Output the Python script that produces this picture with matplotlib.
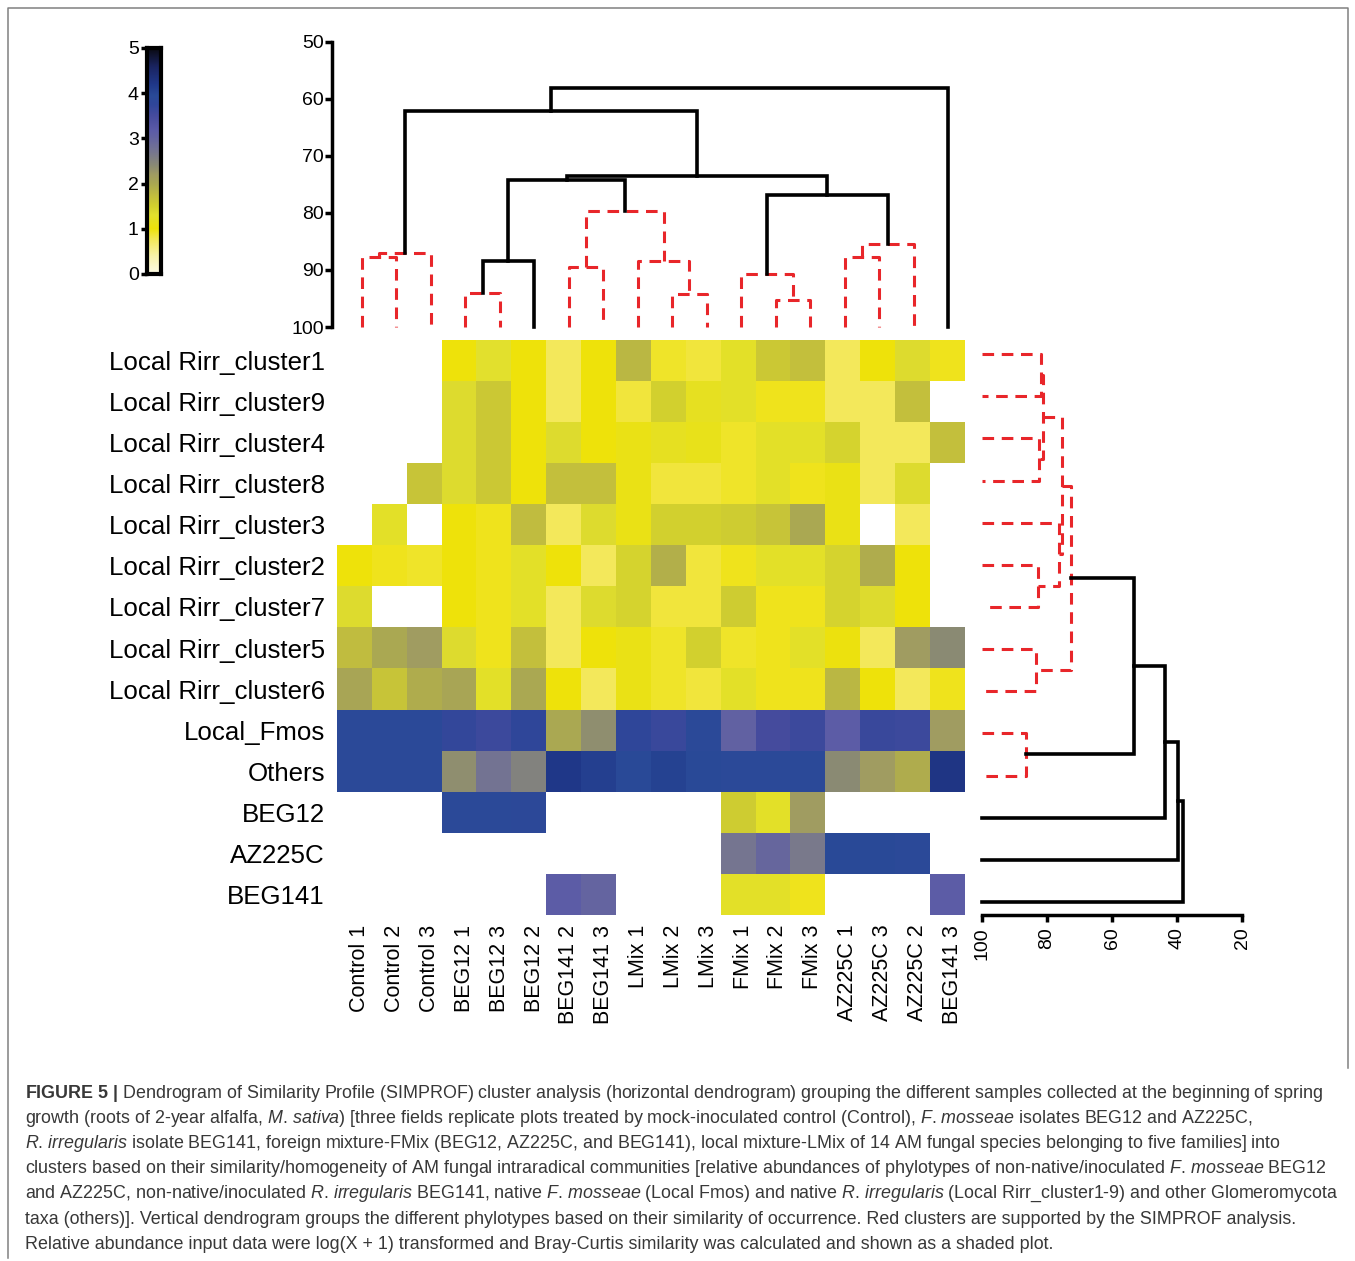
import numpy as np
import matplotlib.pyplot as plt
from matplotlib.colors import LinearSegmentedColormap
from matplotlib.transforms import ScaledTranslation

plt.rcParams['font.family'] = ['Liberation Sans', 'DejaVu Sans']
plt.rcParams['mathtext.fontset'] = 'custom'
plt.rcParams['mathtext.rm'] = 'Liberation Sans'
plt.rcParams['mathtext.it'] = 'Liberation Sans:italic'
plt.rcParams['mathtext.bf'] = 'Liberation Sans:bold'

W, H = 1355, 1261
nan = np.nan

samples = ["Control 1", "Control 2", "Control 3", "BEG12 1", "BEG12 3", "BEG12 2",
           "BEG141 2", "BEG141 3", "LMix 1", "LMix 2", "LMix 3", "FMix 1", "FMix 2",
           "FMix 3", "AZ225C 1", "AZ225C 3", "AZ225C 2", "BEG141 3"]

taxa = ["Local Rirr_cluster1", "Local Rirr_cluster9", "Local Rirr_cluster4",
        "Local Rirr_cluster8", "Local Rirr_cluster3", "Local Rirr_cluster2",
        "Local Rirr_cluster7", "Local Rirr_cluster5", "Local Rirr_cluster6",
        "Local_Fmos", "Others", "BEG12", "AZ225C", "BEG141"]

# log(X+1) relative abundance
abundance = np.array([
    [nan, nan, nan, 1.0, 1.3, 1.0, 0.75, 1.0, 1.8, 0.9, 0.85, 1.25, 1.6, 1.7, 0.75, 1.0, 1.35, 0.95],
    [nan, nan, nan, 1.35, 1.6, 1.0, 0.75, 1.0, 0.85, 1.5, 1.2, 1.25, 0.95, 0.95, 0.75, 0.75, 1.7, nan],
    [nan, nan, nan, 1.35, 1.6, 1.0, 1.35, 1.0, 1.1, 1.2, 1.15, 0.9, 1.25, 1.25, 1.45, 0.75, 0.75, 1.7],
    [nan, nan, 1.65, 1.35, 1.6, 1.0, 1.7, 1.7, 1.1, 0.85, 0.85, 0.9, 1.25, 0.95, 1.1, 0.75, 1.35, nan],
    [nan, 1.25, nan, 1.0, 0.95, 1.75, 0.75, 1.35, 1.1, 1.5, 1.5, 1.55, 1.65, 2.0, 1.1, nan, 0.75, nan],
    [1.0, 0.95, 0.9, 1.0, 0.95, 1.25, 1.0, 0.75, 1.45, 1.9, 0.85, 0.95, 1.25, 1.25, 1.45, 1.95, 1.0, nan],
    [1.35, nan, nan, 1.0, 0.95, 1.25, 0.75, 1.35, 1.45, 0.85, 0.85, 1.55, 0.95, 0.95, 1.45, 1.35, 1.0, nan],
    [1.75, 2.0, 2.2, 1.35, 0.95, 1.7, 0.75, 1.0, 1.1, 0.9, 1.5, 0.9, 0.95, 1.25, 1.05, 0.75, 2.2, 2.4],
    [2.05, 1.65, 1.95, 2.05, 1.25, 2.0, 1.0, 0.75, 1.1, 0.9, 0.85, 1.25, 0.95, 0.95, 1.8, 1.0, 0.75, 0.95],
    [3.9, 3.9, 3.9, 3.7, 3.6, 3.75, 2.0, 2.35, 3.75, 3.65, 3.9, 3.05, 3.5, 3.6, 3.15, 3.65, 3.6, 2.2],
    [3.9, 3.9, 3.9, 2.35, 2.75, 2.5, 4.2, 4.1, 3.95, 4.05, 3.95, 3.9, 3.9, 3.9, 2.4, 2.2, 1.95, 4.25],
    [nan, nan, nan, 3.9, 3.9, 3.85, nan, nan, nan, nan, nan, 1.55, 1.25, 2.2, nan, nan, nan, nan],
    [nan, nan, nan, nan, nan, nan, nan, nan, nan, nan, nan, 2.7, 2.95, 2.65, 3.95, 3.95, 3.9, nan],
    [nan, nan, nan, nan, nan, nan, 3.15, 3.0, nan, nan, nan, 1.25, 1.25, 0.95, nan, nan, nan, 3.15],
])

# merges: (child a, child b, similarity %, SIMPROF-supported); ids >= n_leaves are earlier merges
sample_merges = [
    (0, 1, 87.7, True), (18, 2, 87.1, True),
    (3, 4, 94.0, True), (20, 5, 88.5, False),
    (6, 7, 89.5, True), (9, 10, 94.2, True), (8, 23, 88.5, True), (22, 24, 79.7, True),
    (21, 25, 74.2, False),
    (12, 13, 95.3, True), (11, 27, 90.7, True),
    (14, 15, 87.8, True), (29, 16, 85.5, True),
    (28, 30, 76.9, False), (26, 31, 73.6, False), (19, 32, 62.2, False), (33, 17, 58.1, False),
]

taxa_merges = [
    (0, 1, 81.9, True), (2, 3, 82.4, True), (14, 15, 81.2, True),
    (5, 6, 82.9, True), (4, 17, 76.2, True), (16, 18, 75.4, True),
    (7, 8, 83.4, True), (19, 20, 72.6, True), (9, 10, 86.6, True),
    (21, 22, 53.3, False), (23, 11, 43.6, False), (24, 12, 39.8, False), (25, 13, 38.3, False),
]

cbar_ticks = [0, 1, 2, 3, 4, 5]
top_ticks = [50, 60, 70, 80, 90, 100]
side_ticks = [100, 80, 60, 40, 20]

caption = [
    r"$\mathbf{FIGURE\ 5\ |}$ Dendrogram of Similarity Profile (SIMPROF) cluster analysis (horizontal dendrogram) grouping the different samples collected at the beginning of spring",
    r"growth (roots of 2-year alfalfa, $\mathit{M}$. $\mathit{sativa}$) [three fields replicate plots treated by mock-inoculated control (Control), $\mathit{F}$. $\mathit{mosseae}$ isolates BEG12 and AZ225C,",
    r"$\mathit{R}$. $\mathit{irregularis}$ isolate BEG141, foreign mixture-FMix (BEG12, AZ225C, and BEG141), local mixture-LMix of 14 AM fungal species belonging to five families] into",
    r"clusters based on their similarity/homogeneity of AM fungal intraradical communities [relative abundances of phylotypes of non-native/inoculated $\mathit{F}$. $\mathit{mosseae}$ BEG12",
    r"and AZ225C, non-native/inoculated $\mathit{R}$. $\mathit{irregularis}$ BEG141, native $\mathit{F}$. $\mathit{mosseae}$ (Local Fmos) and native $\mathit{R}$. $\mathit{irregularis}$ (Local Rirr_cluster1-9) and other Glomeromycota",
    r"taxa (others)]. Vertical dendrogram groups the different phylotypes based on their similarity of occurrence. Red clusters are supported by the SIMPROF analysis.",
    r"Relative abundance input data were log(X + 1) transformed and Bray-Curtis similarity was calculated and shown as a shaded plot.",
]

shade = LinearSegmentedColormap.from_list("shade", [
    (0.00, "#fdfbe6"), (0.08, "#f8f2a8"), (0.15, "#f3e85a"), (0.20, "#eee20a"),
    (0.26, "#e2e02e"), (0.30, "#d2d02e"), (0.34, "#c4c03c"), (0.40, "#aaa852"),
    (0.44, "#a09c62"), (0.48, "#8a8a74"), (0.54, "#767690"), (0.60, "#6464a0"),
    (0.64, "#5a5aa8"), (0.70, "#464c9e"), (0.75, "#30469a"), (0.79, "#2a4a98"),
    (0.84, "#20388a"), (0.92, "#1a2460"), (1.00, "#0a0a12"),
])
shade.set_bad("white")

fig = plt.figure(figsize=(W / 100, H / 100), dpi=100)


def px_axes(x0, y0, x1, y1, **kw):
    return fig.add_axes([x0 / W, 1 - y1 / H, (x1 - x0) / W, (y1 - y0) / H], **kw)


def draw_tree(ax, merges, n, vertical):
    pos = {i: float(i) for i in range(n)}
    lev = {i: 100.0 for i in range(n)}
    for k, (a, b, h, red) in enumerate(merges):
        xs = [pos[a], pos[a], pos[b], pos[b]]
        ys = [lev[a], h, h, lev[b]]
        if not vertical:
            xs, ys = ys, xs
        if red:
            ax.plot(xs, ys, color="#e8262a", lw=2.2, ls=(0, (3.8, 2.5)),
                    clip_on=False, zorder=2)
        else:
            ax.plot(xs, ys, color="black", lw=2.6, solid_joinstyle="miter",
                    clip_on=False, zorder=3)
        pos[n + k] = (pos[a] + pos[b]) / 2
        lev[n + k] = h


# background: frame + caption
bg = px_axes(0, 0, W, H, zorder=-5)
bg.set_xlim(0, W)
bg.set_ylim(H, 0)
bg.axis("off")
bg.plot([8, 8, 1348, 1348], [1258, 8, 8, 1068], color="#808080", lw=1.1)
for i, line in enumerate(caption):
    bg.text(25, 1093 + i * 25.2, line, fontsize=12.9, color="#383838", va="center", ha="left")

# heatmap
hm = px_axes(337.3, 340, 964.7, 915)
hm.imshow(abundance, cmap=shade, vmin=0, vmax=5, aspect="auto", interpolation="nearest")
hm.set_xticks(range(len(samples)))
hm.set_xticklabels(samples, rotation=90, fontsize=15.5)
hm.set_yticks(range(len(taxa)))
hm.set_yticklabels(taxa, fontsize=18.6)
hm.tick_params(length=0, pad=9)
hm.tick_params(axis="x", pad=7)
shift = ScaledTranslation(5 / 100, 0, fig.dpi_scale_trans)
for lab in hm.get_xticklabels():
    lab.set_transform(lab.get_transform() + shift)
for s in hm.spines.values():
    s.set_visible(False)

# top dendrogram (samples)
top = px_axes(332, 41.7, 965, 327)
draw_tree(top, sample_merges, len(samples), vertical=True)
top.set_xlim((332 - 362) / 34.47, (965 - 362) / 34.47)
top.set_ylim(100, 50)
top.set_yticks(top_ticks)
top.set_xticks([])
for side in ["top", "right", "bottom"]:
    top.spines[side].set_visible(False)
top.spines["left"].set_linewidth(2.5)
top.tick_params(axis="y", length=5, width=2.5, pad=1, labelsize=14)
top.patch.set_alpha(0)

# side dendrogram (taxa)
side = px_axes(982, 333, 1242, 915)
draw_tree(side, taxa_merges, len(taxa), vertical=False)
side.set_xlim(100, 20)
side.set_ylim(13.31, -0.5)
side.set_xticks(side_ticks)
side.set_yticks([])
for s in ["top", "right", "left"]:
    side.spines[s].set_visible(False)
side.spines["bottom"].set_linewidth(2.5)
side.tick_params(axis="x", length=5, width=2.5, pad=4, labelsize=14, labelrotation=90)
side.patch.set_alpha(0)

# colour scale
cb = px_axes(147, 48, 161, 274)
cb.imshow(np.linspace(0, 5, 256)[:, None], cmap=shade, vmin=0, vmax=5, origin="lower",
          extent=[0, 1, 0, 5], aspect="auto")
cb.set_xticks([])
cb.set_yticks(cbar_ticks)
cb.set_ylim(0, 5)
for s in cb.spines.values():
    s.set_linewidth(3)
cb.tick_params(axis="y", length=4, width=2.5, pad=2, labelsize=14)

fig.savefig("out.png", dpi=100)
